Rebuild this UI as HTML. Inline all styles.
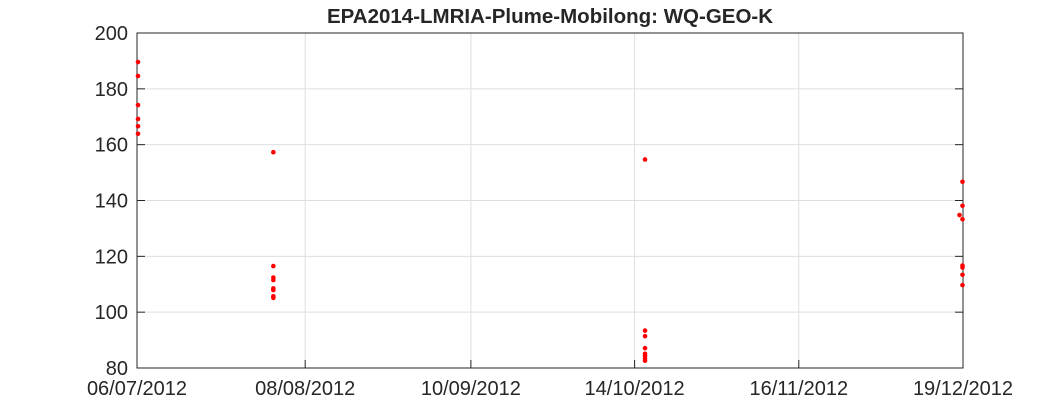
<!DOCTYPE html>
<html><head><meta charset="utf-8"><style>
body{margin:0;background:#fff;}
svg text{font-family:"Liberation Sans",Arial,sans-serif;fill:#262626;}
</style></head><body>
<svg id="chart" width="1063" height="413"></svg>
<script>
const xTickLabels=["06/07/2012","08/08/2012","10/09/2012","14/10/2012","16/11/2012","19/12/2012"];
const xTickDays=[0,33.8,67.1,100,133,166];
const yTicks=[80,100,120,140,160,180,200];
const pointDays=[0.2,0.2,0.2,0.2,0.2,0.2,27.4,27.4,27.4,27.4,27.4,27.4,27.4,27.4,102.1,102.1,102.1,102.1,102.1,102.1,102.1,102.1,165.9,165.9,165.3,165.9,165.9,165.9,165.9,165.9];
const pointValues=[189.6,184.6,174.2,169.2,166.6,163.9,157.3,116.5,112.4,111.5,108.5,107.9,105.7,105.1,154.7,93.4,91.4,87.1,85.1,84.3,83.4,82.6,146.7,138.1,134.8,133.3,116.7,116.0,113.4,109.7];
const NS="http://www.w3.org/2000/svg";
const svg=document.getElementById('chart');
const L=137,R=963,T=33,B=368;
const xS=d=>L+d/166*(R-L);
const yS=v=>B-(v-80)/120*(B-T);
function mk(t,a){const e=document.createElementNS(NS,t);for(const k in a)e.setAttribute(k,a[k]);svg.appendChild(e);return e;}
mk('rect',{x:L,y:T,width:R-L,height:B-T,fill:'#fff'});
yTicks.forEach(v=>{const g=mk('line',{x1:L,x2:R,y1:yS(v),y2:yS(v),stroke:'#dfdfdf','stroke-width':1});


const t=mk('text',{x:L-9,y:yS(v)+7,'text-anchor':'end','font-size':20});t.textContent=v;


mk('line',{x1:L,x2:L+8,y1:yS(v),y2:yS(v),stroke:'#262626'});mk('line',{x1:R,x2:R-8,y1:yS(v),y2:yS(v),stroke:'#262626'});});
xTickDays.forEach((d,i)=>{const g=mk('line',{x1:xS(d),x2:xS(d),y1:T,y2:B,stroke:'#dfdfdf'});


mk('line',{x1:xS(d),x2:xS(d),y1:B,y2:B-8,stroke:'#262626'});
const t=mk('text',{x:xS(d),y:B+27,'text-anchor':'middle','font-size':20});t.textContent=xTickLabels[i];

});
const box=mk('rect',{x:L,y:T,width:R-L,height:B-T,fill:'none',stroke:'#262626','stroke-width':1});


pointDays.forEach((d,i)=>{const c=mk('circle',{cx:xS(d),cy:yS(pointValues[i]),r:2.3,fill:'#ff0000'});

});
const title=mk('text',{x:(L+R)/2,y:23,'text-anchor':'middle','font-size':20.5,'font-weight':'bold'});
title.textContent="EPA2014-LMRIA-Plume-Mobilong: WQ-GEO-K";


</script>
</body></html>
